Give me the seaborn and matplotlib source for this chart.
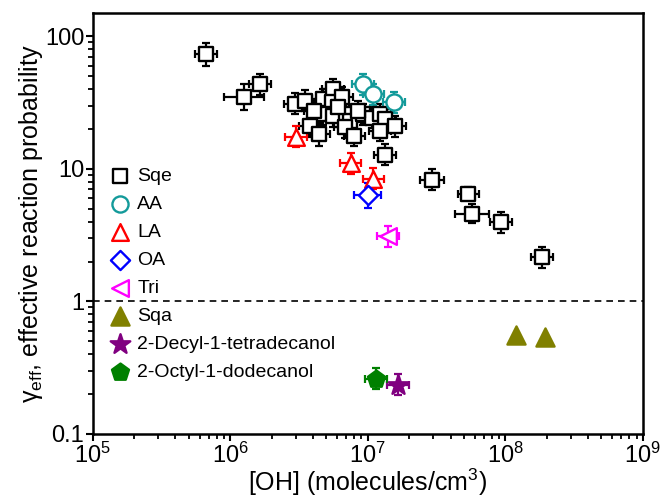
import matplotlib
matplotlib.use("Agg")
import matplotlib.pyplot as plt
import matplotlib.ticker as ticker
import numpy as np
import seaborn as sns

# [OH] (molecules/cm3) and gamma_eff, one list per sample
sqe_oh = [6.7e5, 1.26e6, 1.65e6, 2.95e6, 3.5e6, 4.7e6, 5.6e6, 5.5e6, 6.5e6, 4.7e6,
          4.1e6, 3.8e6, 4.4e6, 5.6e6, 7.0e6, 7.4e6, 6.8e6, 8.0e6, 9.3e6, 1.07e7,
          1.23e7, 1.33e7, 1.23e7, 1.57e7, 1.33e7, 6.1e6, 8.5e6, 2.95e7, 5.4e7, 5.7e7,
          9.3e7, 1.86e8]
sqe_gamma = [73, 34.7, 43.6, 31, 32.5, 33.5, 39.8, 31.8, 34.7, 25.8,
             27.3, 21, 18.2, 25, 25.8, 22.9, 20.6, 17.7, 25.8, 24.3,
             25.8, 23.6, 19.3, 21, 12.8, 29.1, 27.2, 8.3, 6.5, 4.6,
             3.95, 2.15]
sqe_xf = [1.2, 1.4, 1.2, 1.2, 1.2, 1.2, 1.2, 1.2, 1.2, 1.2,
          1.2, 1.2, 1.2, 1.2, 1.2, 1.2, 1.2, 1.2, 1.2, 1.2,
          1.2, 1.2, 1.2, 1.2, 1.2, 1.2, 1.2, 1.22, 1.2, 1.33,
          1.2, 1.2]
sqe_yf = [1.22, 1.25, 1.2, 1.2, 1.2, 1.2, 1.2, 1.2, 1.2, 1.2,
          1.2, 1.2, 1.22, 1.2, 1.2, 1.2, 1.2, 1.2, 1.2, 1.2,
          1.2, 1.2, 1.2, 1.2, 1.2, 1.2, 1.2, 1.2, 1.12, 1.18,
          1.2, 1.2]

aa_oh = [9.2e6, 1.1e7, 1.55e7]
aa_gamma = [43.5, 36.5, 31.7]
la_oh = [3.0e6, 7.5e6, 1.1e7]
la_gamma = [17.5, 11.0, 8.4]
oa_oh = [1.0e7]
oa_gamma = [6.3]
tri_oh = [1.4e7]
tri_gamma = [3.1]
sqa_oh = [1.2e8, 1.95e8]
sqa_gamma = [0.56, 0.54]
decyl_oh = [1.66e7]
decyl_gamma = [0.235]
octyl_oh = [1.15e7]
octyl_gamma = [0.26]

sns.set_style("ticks")
plt.rcParams["font.family"] = ["Liberation Sans", "DejaVu Sans"]
plt.rcParams["mathtext.fontset"] = "custom"
plt.rcParams["mathtext.rm"] = "Liberation Sans"
plt.rcParams["mathtext.it"] = "Liberation Sans:italic"
plt.rcParams["text.color"] = "black"
plt.rcParams["axes.labelcolor"] = "black"
plt.rcParams["xtick.color"] = "black"
plt.rcParams["ytick.color"] = "black"
plt.rcParams["xtick.minor.size"] = 3.5
plt.rcParams["ytick.minor.size"] = 3.5
plt.rcParams["xtick.minor.width"] = 1.3
plt.rcParams["ytick.minor.width"] = 1.3

fig, ax = plt.subplots(figsize=(6.62, 4.96), dpi=100)
fig.subplots_adjust(left=0.140, right=0.971, bottom=0.125, top=0.974)
ax.set_xscale("log")
ax.set_yscale("log")


def draw(oh, gamma, color, marker, size, label, filled=False, xf=None, yf=None):
    if xf is None:
        xf = [1.2] * len(oh)
    if yf is None:
        yf = [1.2] * len(oh)
    if xf != 0:
        xlo = [x - x / f for x, f in zip(oh, xf)]
        xhi = [x * f - x for x, f in zip(oh, xf)]
        ylo = [y - y / f for y, f in zip(gamma, yf)]
        yhi = [y * f - y for y, f in zip(gamma, yf)]
        ax.errorbar(oh, gamma, xerr=[xlo, xhi], yerr=[ylo, yhi], fmt="none",
                    ecolor=color, elinewidth=1.6, capsize=3, capthick=1.6, zorder=2)
    sns.scatterplot(x=oh, y=gamma, ax=ax, marker=marker, s=size, color=color,
                    facecolor=color if filled else "white", edgecolor=color,
                    linewidth=1.7, label=label, zorder=3)


draw(sqe_oh, sqe_gamma, "black", "s", 115, "Sqe", xf=sqe_xf, yf=sqe_yf)
draw(aa_oh, aa_gamma, "#139a9a", "o", 135, "AA")
draw(la_oh, la_gamma, "#ff0000", "^", 145, "LA")
draw(oa_oh, oa_gamma, "#0000ff", "D", 95, "OA", xf=[1.25], yf=[1.25])
draw(tri_oh, tri_gamma, "#ff00ff", "<", 145, "Tri")
draw(sqa_oh, sqa_gamma, "#808000", "^", 170, "Sqa", filled=True, xf=0)
draw(decyl_oh, decyl_gamma, "#800080", "*", 220, "2-Decyl-1-tetradecanol", filled=True)
draw(octyl_oh, octyl_gamma, "#008000", "p", 165, "2-Octyl-1-dodecanol", filled=True)

ax.axhline(1, color="black", linestyle=(0, (4, 3)), linewidth=1.2, zorder=1)

ax.set_xlim(1e5, 1e9)
ax.set_ylim(0.1, 150)
ax.yaxis.set_major_formatter(ticker.FuncFormatter(lambda v, _: f"{v:g}"))

for side in ["top", "right", "left", "bottom"]:
    ax.spines[side].set_linewidth(1.8)
    ax.spines[side].set_edgecolor("black")
ax.tick_params(which="major", length=5, width=1.5, labelsize=17, pad=1)

ax.set_xlabel("[OH] (molecules/cm$^3$)", fontsize=18, labelpad=-1)
ax.set_ylabel(r"$\mathrm{\gamma_{eff}}$, effective reaction probability", fontsize=18, labelpad=0)

ax.legend(loc="upper left", bbox_to_anchor=(0.0, 0.665), frameon=False, fontsize=14,
          handletextpad=0.2, labelspacing=0.53, handlelength=1.4, borderaxespad=0.3)

for axis in (ax.xaxis, ax.yaxis):
    axis.set_minor_locator(ticker.LogLocator(base=10, subs=np.arange(2, 10), numticks=100))
    axis.set_minor_formatter(ticker.NullFormatter())

fig.savefig("out.png", dpi=100)
